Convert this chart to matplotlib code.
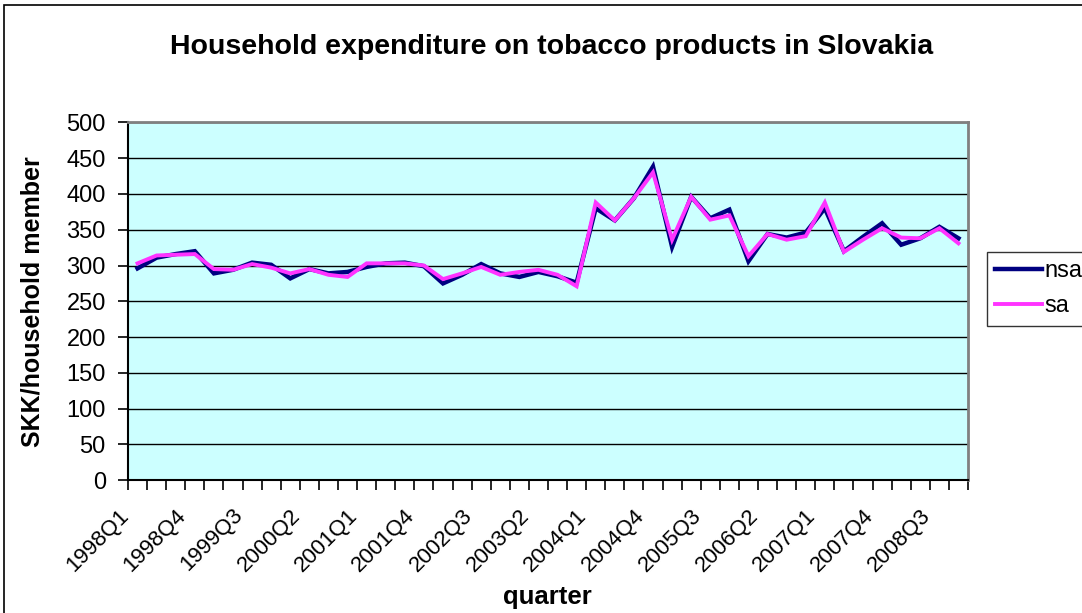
import numpy as np
import matplotlib.pyplot as plt
import matplotlib.transforms as mtransforms
from matplotlib.patches import Rectangle

plt.rcParams['font.family'] = ['Liberation Sans', 'DejaVu Sans']

# quarters 1998Q1 .. 2008Q4
QUARTERS = ['%dQ%d' % (y, q) for y in range(1998, 2009) for q in range(1, 5)]

NSA = [296, 311, 316, 320, 289, 294, 304, 301, 282, 295, 289, 291, 298, 303,
       304, 299, 275, 287, 302, 289, 284, 291, 285, 276, 380, 363, 394, 438,
       326, 396, 366, 378, 306, 344, 339, 346, 380, 320, 340, 359, 329, 338,
       354, 338]
SA = [303, 314, 315, 316, 295, 294, 302, 297, 289, 295, 287, 284, 303, 303,
      303, 300, 281, 289, 298, 287, 291, 294, 287, 271, 388, 363, 394, 430,
      336, 396, 364, 370, 313, 344, 336, 341, 388, 319, 336, 352, 339, 338,
      352, 331]

LABEL_STEP = 3

fig = plt.figure(figsize=(10.82, 6.13), dpi=100)
ax = fig.add_axes([128 / 1082, 1 - 480.3 / 613, 840 / 1082, 358 / 613])
ax.set_facecolor('#CCFFFF')

x = np.arange(len(QUARTERS))
ax.plot(x, NSA, color='#000080', lw=3.2, label='nsa', solid_joinstyle='miter')
ax.plot(x, SA, color='#FF33FF', lw=2.8, label='sa', solid_joinstyle='miter')

ax.set_xlim(-0.5, len(QUARTERS) - 0.5)
ax.set_ylim(0, 500)
ax.set_yticks(np.arange(0, 501, 50))
ax.yaxis.grid(True, color='black', lw=1)
ax.set_axisbelow(True)

# category boundaries get the tick marks, labels sit on every third category
ax.set_xticks(np.arange(-0.5, len(QUARTERS)), minor=True)
ax.set_xticks(x[::LABEL_STEP])
ax.set_xticklabels(QUARTERS[::LABEL_STEP], rotation=45, ha='right',
                   va='center', rotation_mode='anchor', fontsize=16)
ax.tick_params(axis='x', which='major', length=0, pad=23)
ax.tick_params(axis='x', which='minor', length=7, width=1.2, color='black')
ax.tick_params(axis='y', length=7, width=1.2, labelsize=17, pad=9)

# nudge the slanted labels a bit to the left (after tick_params, which resets transforms)
shift = mtransforms.ScaledTranslation(-12 / 100, 0, fig.dpi_scale_trans)
for lbl in ax.get_xticklabels():
    lbl.set_transform(lbl.get_transform() + shift)

for side in ['left', 'bottom']:
    ax.spines[side].set_color('black')
    ax.spines[side].set_linewidth(1.5)
for side in ['top', 'right']:
    ax.spines[side].set_color('#808080')
    ax.spines[side].set_linewidth(2)

fig.text(552 / 1082, 1 - 47 / 613, 'Household expenditure on tobacco products in Slovakia',
         ha='center', va='center', fontsize=20.5, fontweight='bold')
fig.text(33 / 1082, 1 - 302 / 613, 'SKK/household member', rotation=90,
         ha='center', va='center', fontsize=18, fontweight='bold')
fig.text(547 / 1082, 1 - 597 / 613, 'quarter', ha='center', va='center',
         fontsize=18.5, fontweight='bold')

leg = fig.legend(loc='upper left', bbox_to_anchor=(987 / 1082, 1 - 252 / 613),
                 fontsize=17, frameon=True, fancybox=False, edgecolor='black',
                 handlelength=2.0, handletextpad=0.1, borderpad=0.35,
                 labelspacing=0.55, borderaxespad=0)
leg.get_frame().set_linewidth(1)

# outer chart border
fig.patches.append(Rectangle((4 / 1082, -0.01), 1.02, 1 - 5 / 613 + 0.01,
                             transform=fig.transFigure, fill=False,
                             edgecolor='black', lw=1.2))

fig.savefig('out.png', dpi=100)
